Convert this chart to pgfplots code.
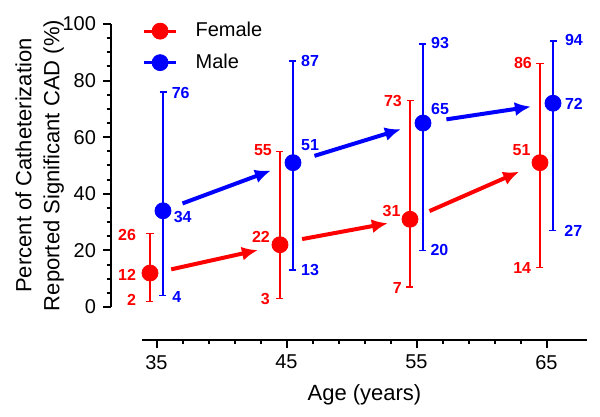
\documentclass[border=0pt]{standalone}
\usepackage{fontspec}
\setmainfont{Liberation Sans}
\usepackage{pgfplots}
\pgfplotsset{compat=1.18}
\usetikzlibrary{arrows.meta}
\definecolor{cred}{RGB}{255,0,0}
\definecolor{cblue}{RGB}{0,0,255}
\pgfplotsset{
  common/.style={
    scale only axis, x=6.5pt, y=1.415pt,
    tick align=outside,
    major tick length=4pt, minor tick length=2.2pt,
    axis line style={line width=1pt},
    tick style={line width=1pt, black},
    tick label style={font=\fontsize{10}{12}\selectfont},
    /pgf/number format/assume math mode=true,
    label style={font=\fontsize{11}{14}\selectfont, align=center},
    clip=false,
  }
}
\begin{document}
\begin{tikzpicture}
\useasboundingbox (-55.5pt,-55pt) rectangle (244.5pt,153.5pt);
% x axis
\begin{axis}[common,
  at={(15.6pt,-16.5pt)}, anchor=south west,
  xmin=33.9, xmax=68.1, ymin=-11.66, ymax=100,
  axis x line*=bottom, axis y line=none,
  xtick={35,45,55,65}, minor x tick num=4,
  xlabel={Age (years)},
  xlabel shift=1pt,
]
\end{axis}
% y axis and data
\begin{axis}[common,
  at={(0pt,0pt)}, anchor=south west,
  xmin=31.5, xmax=68.1, ymin=0, ymax=100,
  axis y line*=left, axis x line=none,
  ytick={0,20,...,100}, minor y tick num=3,
  ylabel={Percent of Catheterization\\Reported Significant CAD (\%)},
  ylabel shift=-7.5pt,
  legend style={at={(0.0656,1)}, anchor=north west, draw=none, fill=none,
    inner sep=0pt, font=\fontsize{10}{12}\selectfont, row sep=3pt,
    yshift=3pt,
    /tikz/every odd column/.append style={column sep=7pt}},
  legend cell align=left,
]
\addplot[only marks, mark=*, mark size=4pt, color=cred,
  legend image code/.code={
    \draw[cred, line width=1.5pt, dash pattern=on 4pt off 8pt] (0pt,0pt) -- (16pt,0pt);
    \fill[cred] (8pt,0pt) circle (4pt);},
  error bars/.cd, y dir=both, y explicit,
  error bar style={line width=0.75pt},
  error mark options={line width=0.75pt, mark size=1.75pt, rotate=90}]
  coordinates {
  (34.5,12) += (0,14) -= (0,10)
  (44.5,22) += (0,33) -= (0,19)
  (54.5,31) += (0,42) -= (0,24)
  (64.5,51) += (0,35) -= (0,37)
};
\addlegendentry{Female}
\addplot[only marks, mark=*, mark size=4pt, color=cblue,
  legend image code/.code={
    \draw[cblue, line width=1.5pt, dash pattern=on 4pt off 8pt] (0pt,0pt) -- (16pt,0pt);
    \fill[cblue] (8pt,0pt) circle (4pt);},
  error bars/.cd, y dir=both, y explicit,
  error bar style={line width=0.75pt},
  error mark options={line width=0.75pt, mark size=1.75pt, rotate=90}]
  coordinates {
  (35.5,34) += (0,42) -= (0,30)
  (45.5,51) += (0,36) -= (0,38)
  (55.5,65) += (0,28) -= (0,45)
  (65.5,72) += (0,22) -= (0,45)
};
\addlegendentry{Male}
% arrows
\addplot[forget plot, cred, line width=2pt, -{Latex[length=8pt,width=7pt]}] coordinates {(36.13,13.3) (42.8,20.1)};
\addplot[forget plot, cred, line width=2pt, -{Latex[length=8pt,width=7pt]}] coordinates {(46.2,24.0) (52.8,29.6)};
\addplot[forget plot, cred, line width=2pt, -{Latex[length=8pt,width=7pt]}] coordinates {(56.0,33.9) (62.9,47.8)};
\addplot[forget plot, cblue, line width=2pt, -{Latex[length=8pt,width=7pt]}] coordinates {(37.0,36.6) (43.8,48.2)};
\addplot[forget plot, cblue, line width=2pt, -{Latex[length=8pt,width=7pt]}] coordinates {(47.15,53.4) (53.8,62.8)};
\addplot[forget plot, cblue, line width=2pt, -{Latex[length=8pt,width=7pt]}] coordinates {(57.3,66.3) (63.8,70.8)};
% labels
\begin{scope}[every node/.style={font=\bfseries\fontsize{8}{9.6}\selectfont, inner sep=0pt}]
\node[cred, anchor=east] at (axis cs:33.45,25.4) {26};
\node[cred, anchor=east] at (axis cs:33.45,11.5) {12};
\node[cred, anchor=east] at (axis cs:33.45,2.5) {2};
\node[cred, anchor=east] at (axis cs:43.9,55.5) {55};
\node[cred, anchor=east] at (axis cs:43.75,24.8) {22};
\node[cred, anchor=east] at (axis cs:43.75,2.8) {3};
\node[cred, anchor=east] at (axis cs:53.9,72.9) {73};
\node[cred, anchor=east] at (axis cs:53.8,33.9) {31};
\node[cred, anchor=east] at (axis cs:53.9,6.7) {7};
\node[cred, anchor=east] at (axis cs:63.9,86.1) {86};
\node[cred, anchor=east] at (axis cs:63.8,55.5) {51};
\node[cred, anchor=east] at (axis cs:63.85,13.8) {14};
\node[cblue, anchor=west] at (axis cs:36.15,75.6) {76};
\node[cblue, anchor=west] at (axis cs:36.3,31.9) {34};
\node[cblue, anchor=west] at (axis cs:36.2,3.5) {4};
\node[cblue, anchor=west] at (axis cs:46.1,86.9) {87};
\node[cblue, anchor=west] at (axis cs:46.1,57.2) {51};
\node[cblue, anchor=west] at (axis cs:46.1,13.1) {13};
\node[cblue, anchor=west] at (axis cs:56.1,93.2) {93};
\node[cblue, anchor=west] at (axis cs:56.1,69.8) {65};
\node[cblue, anchor=west] at (axis cs:56.05,20.1) {20};
\node[cblue, anchor=west] at (axis cs:66.4,94.3) {94};
\node[cblue, anchor=west] at (axis cs:66.4,71.7) {72};
\node[cblue, anchor=west] at (axis cs:66.35,27) {27};
\end{scope}
\end{axis}
\end{tikzpicture}
\end{document}
